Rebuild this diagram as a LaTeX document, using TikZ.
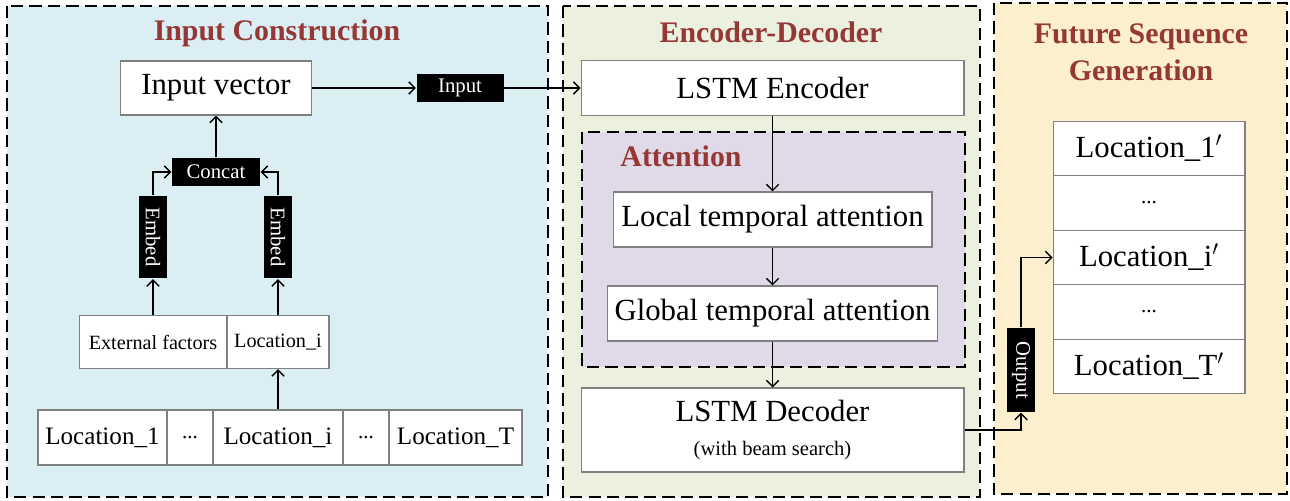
\documentclass[tikz,border=0pt]{standalone}
\usepackage{fontspec}
\setmainfont{Liberation Serif}
\usetikzlibrary{positioning,calc,arrows.meta}
\definecolor{inblue}{HTML}{DAEEF3}
\definecolor{edgreen}{HTML}{EBF1DE}
\definecolor{attpurple}{HTML}{E0DAE8}
\definecolor{genyellow}{HTML}{FCEFCD}
\definecolor{titlered}{HTML}{953735}

\begin{document}
\begin{tikzpicture}[x=0.02cm,y=-0.02cm,line width=0.8pt,>={Straight Barb[length=3.5pt,width=7pt]},
	region/.style={draw=black,dashed,dash pattern=on 7pt off 3.5pt,line width=1.1pt},
	title/.style={text=titlered,font=\bfseries\fontsize{17}{21}\selectfont,align=center},
	cell/.style={draw=gray,line width=0.6pt,fill=white,inner sep=0pt,font=\fontsize{17.5}{20}\selectfont},
	smallcell/.style={cell,font=\fontsize{11.5}{14}\selectfont},
	midcell/.style={cell,font=\fontsize{14.3}{17}\selectfont},
	dotcell/.style={cell,font=\fontsize{12}{14}\selectfont},
	tag/.style={fill=black,text=white,inner sep=0pt,minimum height=0.56cm,font=\fontsize{11.8}{14}\selectfont}]
	\useasboundingbox (0,0) rectangle (1290,500);

	% regions
	\draw[region,fill=inblue] (7,6) rectangle (548,497);
	\draw[region,fill=edgreen] (563,6) rectangle (980,497);
	\draw[region,fill=genyellow] (994,3) rectangle (1287,494);
	\draw[region,fill=attpurple] (582,132) rectangle (965,367);

	\node[title] (tin) at (277,33) {Input Construction};
	\node[title] (ted) at (771,32) {Encoder-Decoder};
	\node[title] (tfs) at (1141,52) {Future Sequence\\Generation};
	\node[title] (tatt) at (681,156) {Attention};

	% input construction
	\node[cell,minimum width=3.82cm,minimum height=1.08cm] (invec) at (216,88) {Input vector};
	\node[tag,minimum width=1.74cm] (inlbl) at (460,88) {Input};
	\node[tag,minimum width=1.76cm] (concat) at (216,172) {Concat};
	\node[tag,minimum width=1.66cm,rotate=-90] (embl) at (153,237) {Embed};
	\node[tag,minimum width=1.66cm,rotate=-90] (embr) at (278,237) {Embed};
	\node[smallcell,minimum width=2.94cm,minimum height=1.06cm] (extf) at (153,342) {External factors};
	\node[smallcell,minimum width=2.04cm,minimum height=1.06cm] (locmid) at (278,342) {Location\_i};
	\node[midcell,minimum width=2.58cm,minimum height=1.1cm] (loc1) at (102.5,437.5) {Location\_1};
	\node[dotcell,minimum width=0.92cm,minimum height=1.1cm] (dotsa) at (190,437.5) {...};
	\node[midcell,minimum width=2.6cm,minimum height=1.1cm] (loci) at (278,437.5) {Location\_i};
	\node[dotcell,minimum width=0.92cm,minimum height=1.1cm] (dotsb) at (366,437.5) {...};
	\node[midcell,minimum width=2.66cm,minimum height=1.1cm] (loct) at (455.5,437.5) {Location\_T};

	% encoder-decoder
	\node[cell,minimum width=7.66cm,minimum height=1.1cm] (enc) at (772.5,88) {LSTM Encoder};
	\node[cell,minimum width=6.38cm,minimum height=1.1cm] (local) at (772.5,219.5) {Local temporal attention};
	\node[cell,minimum width=6.6cm,minimum height=1.1cm] (global) at (772.5,313.5) {Global temporal attention};
	\node[cell,minimum width=7.66cm,minimum height=1.68cm,align=center] (dec) at (772.5,430)
		{LSTM Decoder\\[-1pt]{\fontsize{11.7}{14}\selectfont (with beam search)}};

	% future sequence
	\node[tag,minimum width=1.68cm,rotate=-90] (outlbl) at (1021,370) {Output};
	\node[cell,minimum width=3.84cm,minimum height=1.09cm] (lr1) at (1149,148.5) {Location\_1$'$};
	\node[dotcell,minimum width=3.84cm,minimum height=1.09cm] (lrda) at (1149,203) {...};
	\node[cell,minimum width=3.84cm,minimum height=1.09cm] (lri) at (1149,257.5) {Location\_i$'$};
	\node[dotcell,minimum width=3.84cm,minimum height=1.09cm] (lrdb) at (1149,312) {...};
	\node[cell,minimum width=3.84cm,minimum height=1.09cm] (lrt) at (1149,366.5) {Location\_T$'$};

	% connectors
	\draw[->] (invec) -- (inlbl);
	\draw[->] (inlbl) -- (enc);
	\draw[->] (concat) -- (invec);
	\draw[->] (embl.west) |- (concat);
	\draw[->] (embr.west) |- (concat);
	\draw[->] (extf) -- (embl.east);
	\draw[->] (locmid) -- (embr.east);
	\draw[->] (loci) -- (locmid);
	\draw[->] (enc) -- (local);
	\draw[->] (local) -- (global);
	\draw[->] (global) -- (dec);
	\draw[->] (dec.east) -| (outlbl.east);
	\draw[->] (outlbl.west) |- (lri.west);
\end{tikzpicture}
\end{document}
